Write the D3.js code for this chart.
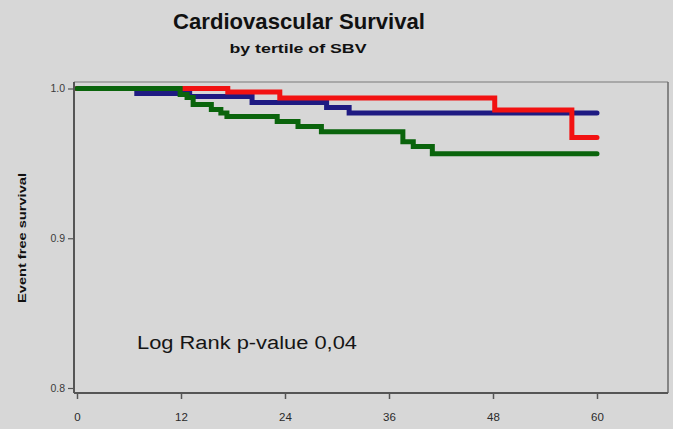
<!DOCTYPE html>
<html>
<head>
<meta charset="utf-8">
<script src="https://cdn.jsdelivr.net/npm/d3@7"></script>
<style>
  html, body { margin: 0; padding: 0; background: #d7d7d7; }
  svg { display: block; }
</style>
</head>
<body>
<svg id="chart" width="673" height="429"></svg>
<script>
// ---- data (months, event-free survival) ----
const xTicks = [0, 12, 24, 36, 48, 60];
const yTicks = [1.0, 0.9, 0.8];
const yTickLabels = ["1.0", "0.9", "0.8"];

// step curves: [time, survival]
const blueSeries = [[0, 1.0], [6.9, 0.9967], [13.0, 0.9946], [20.2, 0.9906], [28.8, 0.9873], [31.4, 0.9836], [60, 0.9836]];
const redSeries = [[0, 1.0], [17.4, 0.9977], [23.4, 0.9936], [48.2, 0.9856], [57.1, 0.9672], [60, 0.9672]];
const greenSeries = [[0, 1.0], [11.9, 0.996], [12.7, 0.994], [13.4, 0.9893], [15.5, 0.986], [16.6, 0.9836], [17.3, 0.9813], [23.1, 0.9779], [25.5, 0.9746], [28.2, 0.9712], [37.6, 0.9645], [38.8, 0.9612], [41.0, 0.9565], [60, 0.9565]];

const titleText = "Cardiovascular Survival";
const subtitleText = "by tertile of SBV";
const yLabelText = "Event free survival";
const noteText = "Log Rank p-value 0,04";

// ---- layout ----
const svg = d3.select("#chart");
const W = 673, H = 429;
const box = { left: 74, right: 668, top: 82, bottom: 393 };

const x = d3.scaleLinear().domain([0, 60]).range([77, 597]);
const y = d3.scaleLinear().domain([0.8, 1.0]).range([388, 88.5]);

svg.append("rect").attr("width", W).attr("height", H).attr("fill", "#d7d7d7");

// plot frame (top / right thin)
svg.append("line").attr("x1", box.left).attr("x2", box.right).attr("y1", box.top).attr("y2", box.top)
  .attr("stroke", "#7a7a7a").attr("stroke-width", 1.2);
svg.append("line").attr("x1", box.right).attr("x2", box.right).attr("y1", box.top).attr("y2", box.bottom)
  .attr("stroke", "#6a6a6a").attr("stroke-width", 1.5);

// curves
const line = d3.line().x(d => x(d[0])).y(d => y(d[1])).curve(d3.curveStepAfter);
const series = [
  { data: blueSeries, color: "#1e1a82" },
  { data: redSeries, color: "#f21212" },
  { data: greenSeries, color: "#0a640c" }
];
svg.selectAll("path.curve").data(series).join("path")
  .attr("class", "curve")
  .attr("d", d => line(d.data))
  .attr("fill", "none")
  .attr("stroke", d => d.color)
  .attr("stroke-width", 5)
  .attr("stroke-linejoin", "miter")
  .attr("stroke-linecap", "round");

// axes
const xAxis = d3.axisBottom(x).tickValues(xTicks).tickSize(6).tickPadding(14).tickFormat(d3.format("d"));
const gx = svg.append("g").attr("transform", `translate(0,${box.bottom})`).call(xAxis);
gx.select(".domain").remove();
gx.selectAll(".tick line").attr("stroke", "#555").attr("stroke-width", 1.5);
gx.selectAll(".tick text").attr("fill", "#2a2a2a").attr("font-family", "Liberation Sans, Arial, sans-serif").attr("font-size", 11.5);

const yAxis = d3.axisLeft(y).tickValues(yTicks).tickSize(6).tickPadding(3).tickFormat((d, i) => yTickLabels[i]);
const gy = svg.append("g").attr("transform", `translate(${box.left},0)`).call(yAxis);
gy.select(".domain").remove();
gy.selectAll(".tick line").attr("stroke", "#555").attr("stroke-width", 1.2);
gy.selectAll(".tick text").attr("fill", "#3a3a3a").attr("font-family", "Liberation Sans, Arial, sans-serif").attr("font-size", 10.5);

// axis lines
svg.append("line").attr("x1", box.left).attr("x2", box.left).attr("y1", box.top).attr("y2", box.bottom)
  .attr("stroke", "#555").attr("stroke-width", 2);
svg.append("line").attr("x1", box.left).attr("x2", box.right).attr("y1", box.bottom).attr("y2", box.bottom)
  .attr("stroke", "#555").attr("stroke-width", 2);

// titles
svg.append("text").attr("x", 299).attr("y", 29).attr("text-anchor", "middle")
  .attr("font-family", "Liberation Sans, Arial, sans-serif").attr("font-weight", "bold").attr("font-size", 22)
  .attr("textLength", 252).attr("lengthAdjust", "spacingAndGlyphs")
  .attr("fill", "#111").text(titleText);
svg.append("text").attr("x", 298).attr("y", 53).attr("text-anchor", "middle")
  .attr("font-family", "Liberation Sans, Arial, sans-serif").attr("font-weight", "bold").attr("font-size", 13)
  .attr("textLength", 137).attr("lengthAdjust", "spacingAndGlyphs")
  .attr("fill", "#111").text(subtitleText);

svg.append("text").attr("transform", "translate(26,238) rotate(-90)").attr("text-anchor", "middle")
  .attr("font-family", "Liberation Sans, Arial, sans-serif").attr("font-weight", "bold").attr("font-size", 11)
  .attr("textLength", 130).attr("lengthAdjust", "spacingAndGlyphs")
  .attr("fill", "#111").text(yLabelText);

svg.append("text").attr("x", 137).attr("y", 349)
  .attr("font-family", "Liberation Sans, Arial, sans-serif").attr("font-size", 18)
  .attr("textLength", 220).attr("lengthAdjust", "spacingAndGlyphs")
  .attr("fill", "#151515").text(noteText);
</script>
</body>
</html>
